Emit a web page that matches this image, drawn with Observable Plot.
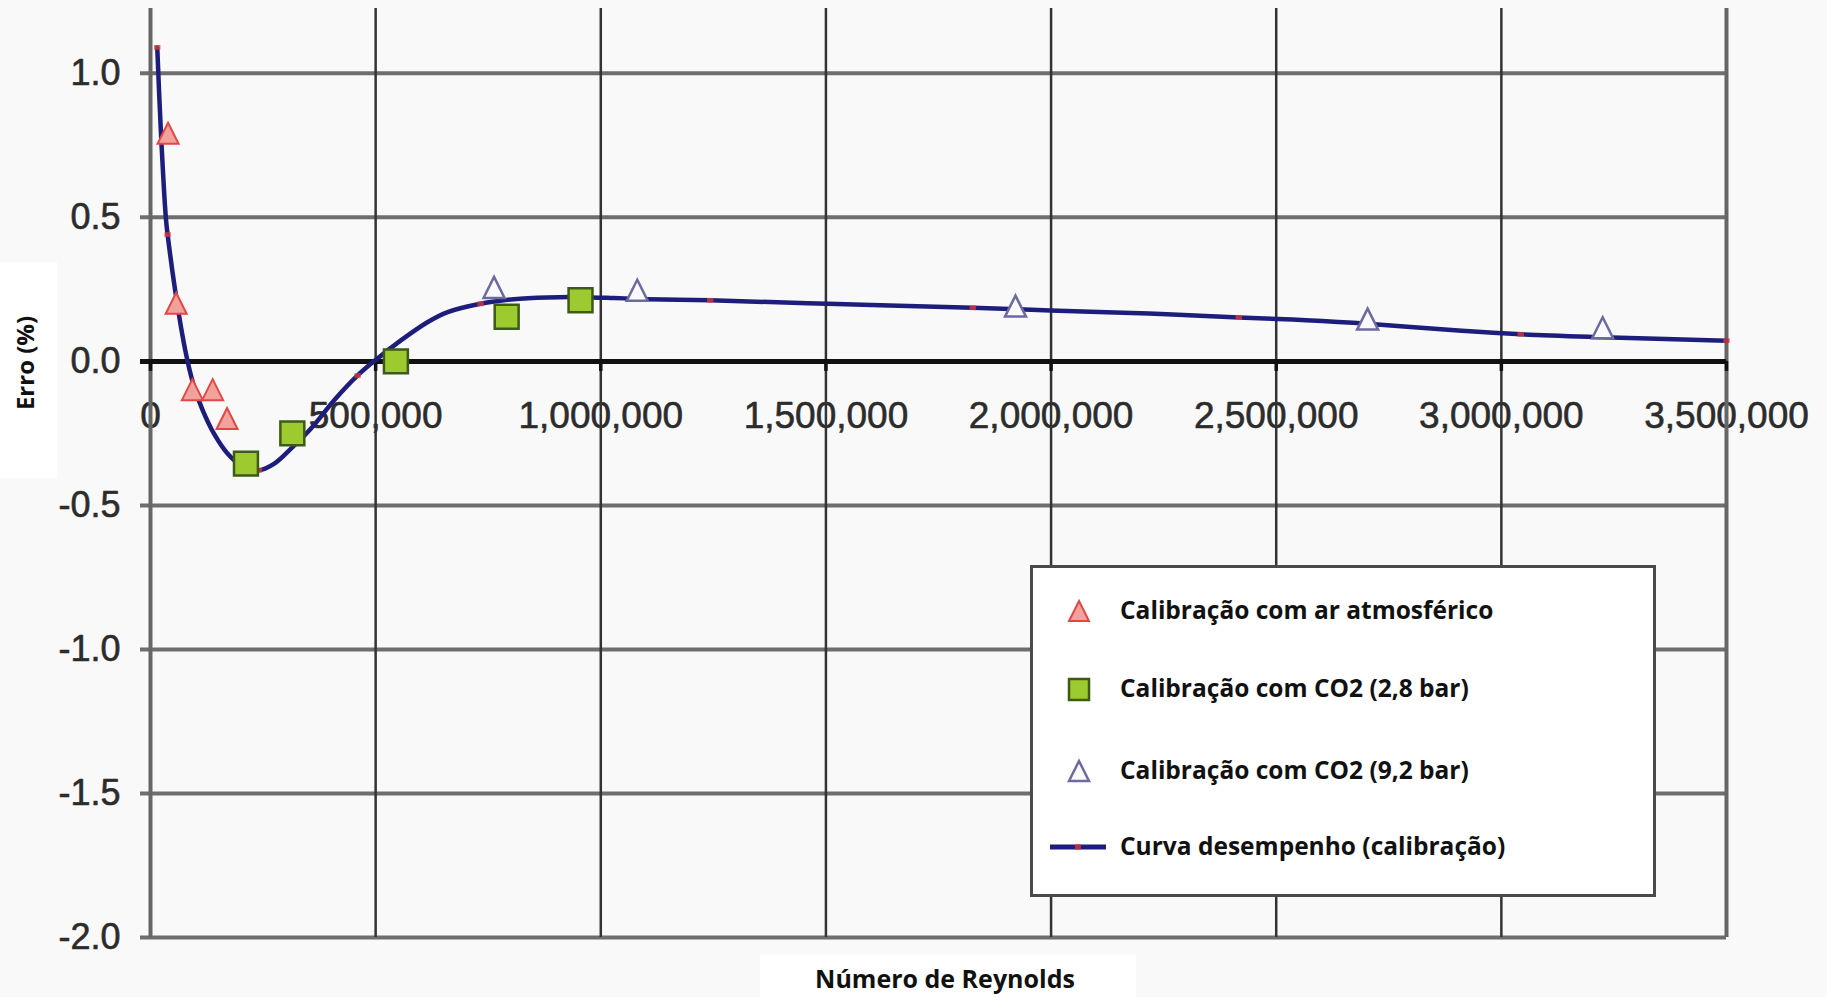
<!DOCTYPE html>
<html>
<head>
<meta charset="utf-8">
<script src="https://cdn.jsdelivr.net/npm/d3@7"></script>
<script src="https://cdn.jsdelivr.net/npm/@observablehq/plot@0.6"></script>
<style>
  html, body { margin: 0; padding: 0; background: #f9f9f9; }
  #wrap { position: relative; width: 1827px; height: 997px; overflow: hidden; background: #f9f9f9; }
  #chart { position: absolute; left: 0; top: 0; }
  .box { position: absolute; background: #ffffff; }
  .title { position: absolute; font-family: "Open Sans", "Noto Sans", sans-serif; font-weight: 700; color: #111; white-space: nowrap; }
  #legend { position: absolute; left: 1030px; top: 565px; width: 620px; height: 326px; background: #ffffff; border: 3px solid #4a4a4a; }
  .entry { position: absolute; left: 0; height: 40px; width: 600px; }
  .entry svg { position: absolute; left: 14px; top: 0; }
  .entry span { position: absolute; left: 87px; top: 50%; transform: translateY(-55%); font-family: "Open Sans", "Noto Sans", sans-serif; font-weight: 700; font-size: 24.5px; color: #111; white-space: nowrap; }
</style>
</head>
<body>
<div id="wrap">
  <div class="box" style="left:0;top:262px;width:57px;height:216px;"></div>
  <div class="box" style="left:760px;top:955px;width:376px;height:42px;"></div>
  <div id="chart"></div>
  <div class="title" id="ytitle" style="left:24px;top:363px;font-size:24px;transform:translate(-50%,-50%) rotate(-90deg);"></div>
  <div class="title" id="xtitle" style="left:945px;top:978px;font-size:25px;line-height:30px;transform:translate(-50%,-50%);"></div>
  <div id="legend"></div>
</div>
<script>
// ---------- data ----------
const xTicks = [0, 500000, 1000000, 1500000, 2000000, 2500000, 3000000, 3500000];
const xTickLabels = ["0", "500,000", "1,000,000", "1,500,000", "2,000,000", "2,500,000", "3,000,000", "3,500,000"];
const yTicks = [-2, -1.5, -1, -0.5, 0, 0.5, 1];
const yTickLabels = ["-2.0", "-1.5", "-1.0", "-0.5", "0.0", "0.5", "1.0"];

const xTitle = "Número de Reynolds";
const yTitle = "Erro (%)";
const seriesNames = [
  "Calibração com ar atmosférico",
  "Calibração com CO2 (2,8 bar)",
  "Calibração com CO2 (9,2 bar)",
  "Curva desempenho (calibração)"
];

// Performance curve
const curveX = [15000, 23000, 34000, 38000, 64000, 82000, 97000, 116000, 141000, 171000, 201000, 241000, 275000, 312000, 356000, 408000, 460000, 500000, 556000, 615000, 660000, 733000, 807000, 881000, 955000, 1029000, 1103000, 1243000, 1504000, 1826000, 1999000, 2217000, 2417000, 2566000, 2703000, 2912000, 3043000, 3225000, 3500000];
const curveY = [1.09, 0.80, 0.50, 0.44, 0.154, 0.003, -0.089, -0.17, -0.251, -0.32, -0.361, -0.378, -0.355, -0.303, -0.234, -0.135, -0.049, 0.005, 0.073, 0.136, 0.171, 0.200, 0.216, 0.222, 0.223, 0.220, 0.216, 0.212, 0.200, 0.186, 0.177, 0.166, 0.152, 0.143, 0.131, 0.106, 0.094, 0.084, 0.072];

// small red markers on the curve
const curveMarkX = [15000, 38000, 241000, 460000, 733000, 1243000, 1826000, 2417000, 3043000, 3500000];
const curveMarkY = [1.09, 0.44, -0.378, -0.049, 0.200, 0.212, 0.186, 0.152, 0.094, 0.072];

// Calibration points
const airX = [39000, 57000, 93000, 138000, 170000];
const airY = [0.79, 0.20, -0.10, -0.10, -0.20];

const co2LowX = [212000, 315000, 545000, 791000, 955000];
const co2LowY = [-0.355, -0.25, 0.0, 0.155, 0.212];

const co2HighX = [763000, 1081000, 1921000, 2703000, 3225000];
const co2HighY = [0.255, 0.245, 0.19, 0.145, 0.115];

// ---------- tables ----------
const toRows = (xs, ys) => xs.map((x, i) => ({x, y: ys[i]}));
const curve = toRows(curveX, curveY);
const curveMarks = toRows(curveMarkX, curveMarkY);
const air = toRows(airX, airY);
const co2Low = toRows(co2LowX, co2LowY);
const co2High = toRows(co2HighX, co2HighY);
const xTickRows = xTicks.map((v, i) => ({v, label: xTickLabels[i]}));
const yTickRows = yTicks.map((v, i) => ({v, label: yTickLabels[i]}));

// custom symbols
const triangle = {
  draw(ctx, size) {
    const r = Math.sqrt(size / Math.PI);
    ctx.moveTo(0, -r * 1.05);
    ctx.lineTo(r, r * 0.95);
    ctx.lineTo(-r, r * 0.95);
    ctx.closePath();
  }
};
const blip = {
  draw(ctx, size) {
    const r = Math.sqrt(size / Math.PI);
    ctx.rect(-r, -r * 0.75, 2 * r, 1.5 * r);
  }
};

const C = {
  curve: "#1d1d7c",
  redFill: "#f3a19b", redStroke: "#e04848",
  greenFill: "#9dcb2f", greenStroke: "#3d5a16",
  blueFill: "#fbfbff", blueStroke: "#6b6b9e"
};

const chart = Plot.plot({
  width: 1827,
  height: 997,
  marginLeft: 150,
  marginRight: 101,
  marginTop: 8,
  marginBottom: 60,
  x: {domain: [0, 3500000], axis: null},
  y: {domain: [-2, 1.225], axis: null},
  style: {background: "transparent", fontFamily: "'Liberation Sans', Arial, sans-serif", overflow: "visible"},
  marks: [
    // tick labels (under the grid, as in the reference)
    Plot.text(yTickRows, {y: "v", text: "label", frameAnchor: "left", textAnchor: "end", dx: -30, fontSize: 36, fill: "#2c2c2c", stroke: "#2c2c2c", strokeWidth: 0.6}),
    Plot.text(xTickRows, {x: "v", y: () => 0, dy: 55, text: "label", fontSize: 37, fill: "#2c2c2c", stroke: "#2c2c2c", strokeWidth: 0.6}),
    // grid
    Plot.ruleY(yTicks.filter(d => d !== 0), {stroke: "#6e6e6e", strokeWidth: 4, insetLeft: -10}),
    Plot.ruleX(xTicks.filter((d, i) => i > 0 && i < xTicks.length - 1), {stroke: "#333", strokeWidth: 2.5}),
    Plot.ruleX([xTicks[0], xTicks[xTicks.length - 1]], {stroke: "#666", strokeWidth: 4}),
    // zero axis with ticks
    Plot.ruleY([0], {stroke: "#111", strokeWidth: 5, insetLeft: -10}),
    Plot.ruleX(xTicks, {y1: () => 0, y2: () => 0, insetBottom: -10, stroke: "#111", strokeWidth: 3.5}),
    // performance curve
    Plot.line(curve, {x: "x", y: "y", curve: "catmull-rom", stroke: C.curve, strokeWidth: 4.5}),
    Plot.dot(curveMarks, {x: "x", y: "y", symbol: blip, r: 3.2, fill: "#e23a3a", fillOpacity: 0.75, stroke: "none"}),
    // calibration points
    Plot.dot(air, {x: "x", y: "y", symbol: triangle, r: 10.5, fill: C.redFill, stroke: C.redStroke, strokeWidth: 2}),
    Plot.dot(co2Low, {x: "x", y: "y", symbol: "square", r: 13.5, fill: C.greenFill, stroke: C.greenStroke, strokeWidth: 2.5}),
    Plot.dot(co2High, {x: "x", y: "y", symbol: triangle, r: 10.5, fill: C.blueFill, stroke: C.blueStroke, strokeWidth: 2.5})
  ]
});
document.getElementById("chart").appendChild(chart);

document.getElementById("ytitle").textContent = yTitle;
document.getElementById("xtitle").textContent = xTitle;

// ---------- legend ----------
const legend = document.getElementById("legend");
const entryCenters = [43, 121, 203, 279];
const symbols = [
  `<svg width="64" height="40"><path d="M32,10 L42,30 L22,30 Z" fill="${C.redFill}" stroke="${C.redStroke}" stroke-width="2"/></svg>`,
  `<svg width="64" height="40"><rect x="22" y="10" width="20" height="21" fill="${C.greenFill}" stroke="${C.greenStroke}" stroke-width="2.5"/></svg>`,
  `<svg width="64" height="40"><path d="M32,10 L42,30 L22,30 Z" fill="${C.blueFill}" stroke="${C.blueStroke}" stroke-width="2.5"/></svg>`,
  `<svg width="64" height="40"><line x1="3" y1="20" x2="59" y2="20" stroke="${C.curve}" stroke-width="5"/><rect x="28" y="17" width="6" height="6" fill="#e23a3a" fill-opacity="0.7"/></svg>`
];
seriesNames.forEach((name, i) => {
  const e = document.createElement("div");
  e.className = "entry";
  e.style.top = (entryCenters[i] - 20) + "px";
  e.innerHTML = symbols[i] + `<span>${name}</span>`;
  legend.appendChild(e);
});
</script>
</body>
</html>
